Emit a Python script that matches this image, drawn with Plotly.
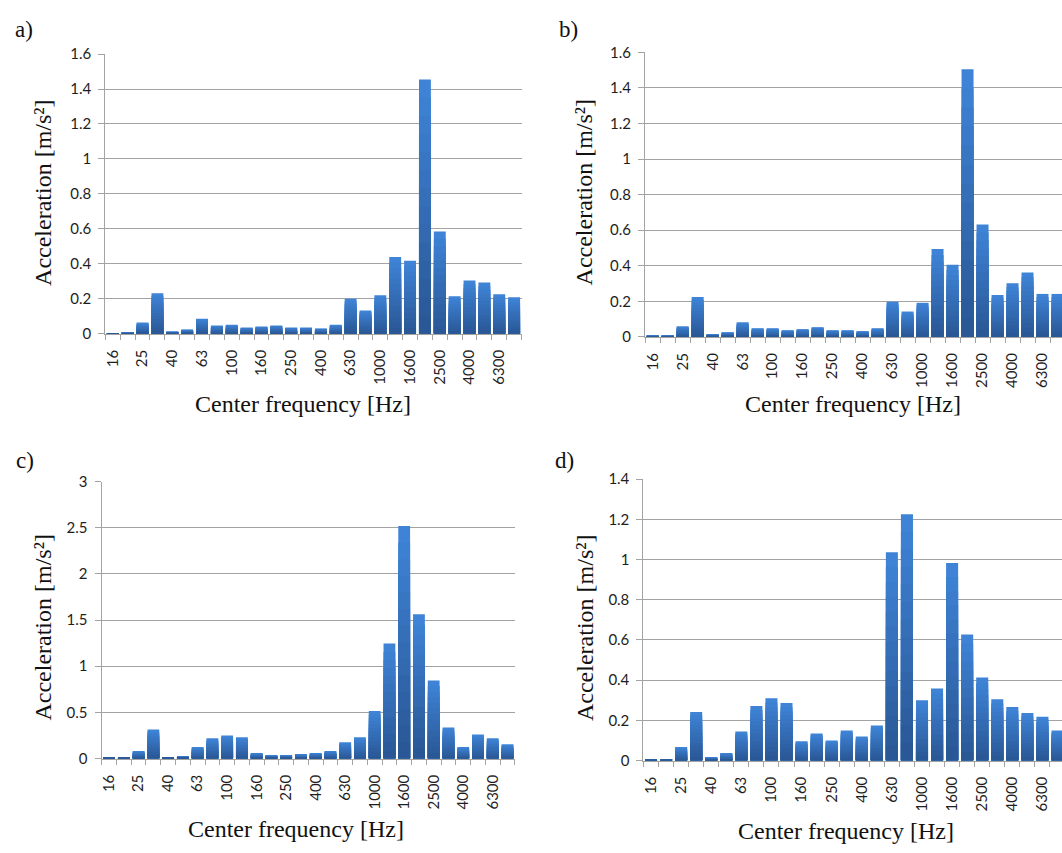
import plotly.graph_objects as go

W, H = 1062, 853

categories = ["16", "20", "25", "31.5", "40", "50", "63", "80", "100", "125",
              "160", "200", "250", "315", "400", "500", "630", "800", "1000",
              "1250", "1600", "2000", "2500", "3150", "4000", "5000", "6300", "8000"]
tick_labels = categories[::2]

accel_a = [0.002, 0.007, 0.064, 0.232, 0.013, 0.024, 0.086, 0.047, 0.052, 0.036,
           0.041, 0.047, 0.036, 0.036, 0.030, 0.052, 0.200, 0.133, 0.220, 0.439,
           0.417, 1.454, 0.585, 0.215, 0.305, 0.293, 0.226, 0.209]
accel_b = [0.005, 0.005, 0.060, 0.225, 0.016, 0.027, 0.082, 0.049, 0.049, 0.038,
           0.044, 0.055, 0.038, 0.038, 0.033, 0.049, 0.198, 0.143, 0.192, 0.494,
           0.406, 1.505, 0.632, 0.236, 0.302, 0.362, 0.242, 0.242]
accel_c = [0.007, 0.007, 0.081, 0.314, 0.018, 0.028, 0.124, 0.219, 0.251, 0.230,
           0.060, 0.039, 0.039, 0.049, 0.060, 0.081, 0.177, 0.230, 0.516, 1.247,
           2.519, 1.562, 0.845, 0.336, 0.124, 0.261, 0.219, 0.155]
accel_d = [0.008, 0.008, 0.067, 0.242, 0.018, 0.037, 0.145, 0.271, 0.310, 0.286,
           0.096, 0.135, 0.100, 0.149, 0.120, 0.174, 1.036, 1.226, 0.300, 0.359,
           0.983, 0.627, 0.413, 0.305, 0.266, 0.237, 0.218, 0.149]

panels = [
    dict(lab="a)", data=accel_a, xl=102.7, xr=520.0, yt=45.0, yb=330.7, ymax=1.6, dt=0.2, xend=27.5,
         labpos=(10, 20), ytit=(40, 187), xtit=(301, 402)),
    dict(lab="b)", data=accel_b, xl=644.0, xr=1062.0, yt=43.3, yb=334.0, ymax=1.6, dt=0.2, xend=27.3,
         labpos=(556, 20), ytit=(583, 186), xtit=(852, 402)),
    dict(lab="c)", data=accel_c, xl=99.0, xr=513.3, yt=481.7, yb=764.7, ymax=3.0, dt=0.5, xend=27.5,
         labpos=(11, 460), ytit=(40, 631), xtit=(294, 837)),
    dict(lab="d)", data=accel_d, xl=642.3, xr=1062.0, yt=479.3, yb=766.7, ymax=1.4, dt=0.2, xend=27.3,
         labpos=(552, 460), ytit=(583, 631), xtit=(845, 839)),
]

GRID = "#a3a3a3"
TOP = (62, 131, 214)
BOT = (42, 88, 150)
NB = 14
serif = "Liberation Serif"
sans = "Lato"
positions = list(range(len(categories)))

fig = go.Figure()
ann = []
for i, p in enumerate(panels):
    n = "" if i == 0 else str(i + 1)
    xa, ya = "x" + n, "y" + n
    for k in range(NB):
        t = k / (NB - 1)
        col = "rgb(%d,%d,%d)" % tuple(round(TOP[j] + (BOT[j] - TOP[j]) * t) for j in range(3))
        frac = (NB - k) / NB
        fig.add_trace(go.Bar(x=positions, y=[v * frac for v in p["data"]],
                             customdata=categories,
                             marker=dict(color=col, line=dict(width=0)),
                             xaxis=xa, yaxis=ya, showlegend=False,
                             hoverinfo="skip" if k else None))
    fig.layout["xaxis" + n] = dict(
        domain=[p["xl"] / W, min(p["xr"] / W, 1.0)], anchor=ya, type="linear",
        range=[-0.5, p["xend"]], tickmode="array",
        tickvals=positions[::2], ticktext=tick_labels, tickangle=-90,
        ticks="", showline=True, linecolor=GRID, linewidth=1.3, showgrid=False, zeroline=False,
        minor=dict(tickmode="linear", tick0=-0.5, dtick=1, ticks="outside", ticklen=5,
                   tickwidth=1.3, tickcolor=GRID, showgrid=False),
        tickfont=dict(family=sans, size=15, color="#1e1e1e"), ticklabelstandoff=9,
        fixedrange=True)
    fig.layout["yaxis" + n] = dict(
        domain=[1 - p["yb"] / H, 1 - p["yt"] / H], anchor=xa, range=[0, p["ymax"]],
        dtick=p["dt"], tick0=0, showgrid=True, gridcolor=GRID, gridwidth=1.3,
        showline=True, linecolor=GRID, linewidth=1.3, zeroline=False,
        ticks="outside", ticklen=6, tickwidth=1.3, tickcolor=GRID,
        tickfont=dict(family=sans, size=15, color="#1e1e1e"), ticklabelstandoff=4,
        fixedrange=True)
    ann.append(dict(text=p["lab"], x=p["labpos"][0] / W, y=1 - p["labpos"][1] / H,
                    xref="paper", yref="paper", xanchor="left", yanchor="middle",
                    showarrow=False, font=dict(family=serif, size=23, color="#111")))
    ann.append(dict(text="Acceleration [m/s²]", x=p["ytit"][0] / W, y=1 - p["ytit"][1] / H,
                    xref="paper", yref="paper", xanchor="center", yanchor="middle", textangle=-90,
                    showarrow=False, font=dict(family=serif, size=24, color="#111")))
    ann.append(dict(text="Center frequency [Hz]", x=p["xtit"][0] / W, y=1 - p["xtit"][1] / H,
                    xref="paper", yref="paper", xanchor="center", yanchor="middle",
                    showarrow=False, font=dict(family=serif, size=24, color="#111")))

fig.update_layout(width=W, height=H, margin=dict(l=0, r=0, t=0, b=0),
                  paper_bgcolor="white", plot_bgcolor="white",
                  barmode="overlay", bargap=0.2, annotations=ann, showlegend=False)

fig.write_html("out.html")
